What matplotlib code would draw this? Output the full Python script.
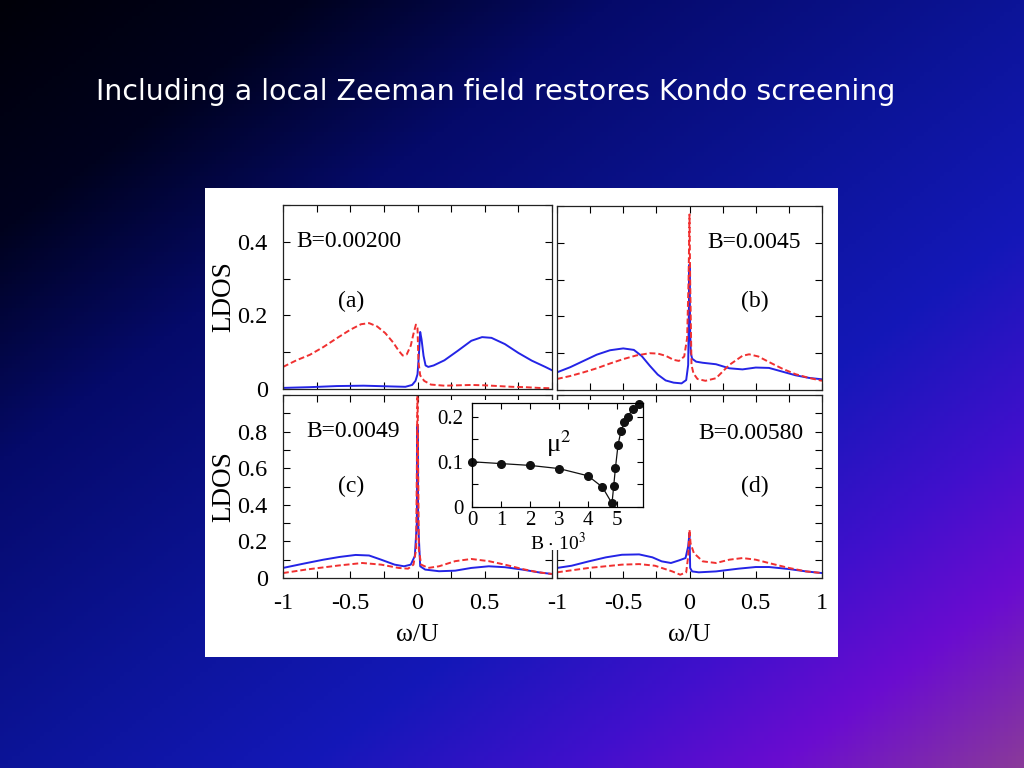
import matplotlib
matplotlib.use("Agg")
import matplotlib.pyplot as plt
import numpy as np
from matplotlib.ticker import MultipleLocator, FixedLocator, FixedFormatter

plt.rcParams['font.family'] = ['Liberation Serif', 'DejaVu Serif']
plt.rcParams['mathtext.fontset'] = 'stix'

# panel (a) B=0.00200
a_blue_w = [-1, -0.8, -0.6, -0.4, -0.2, -0.09, -0.04, -0.015, 0, 0.01, 0.02, 0.03, 0.045, 0.06, 0.08,
            0.12, 0.2, 0.3, 0.4, 0.48, 0.55, 0.65, 0.75, 0.85, 0.95, 1.0]
a_blue = [0.003, 0.005, 0.008, 0.009, 0.007, 0.006, 0.011, 0.022, 0.040, 0.090, 0.155, 0.135, 0.090, 0.064, 0.060,
          0.064, 0.078, 0.104, 0.131, 0.141, 0.139, 0.122, 0.098, 0.077, 0.060, 0.051]
a_red_w = [-1, -0.9, -0.8, -0.7, -0.6, -0.5, -0.42, -0.36, -0.3, -0.24, -0.18, -0.14, -0.11, -0.08, -0.05,
           -0.03, -0.012, 0, 0.007, 0.02, 0.05, 0.1, 0.2, 0.3, 0.4, 0.5, 0.6, 0.7, 0.8, 0.9, 1.0]
a_red = [0.060, 0.078, 0.093, 0.114, 0.138, 0.161, 0.176, 0.179, 0.170, 0.152, 0.126, 0.104, 0.091, 0.094, 0.118,
         0.150, 0.175, 0.165, 0.075, 0.037, 0.022, 0.012, 0.009, 0.010, 0.011, 0.010, 0.008, 0.006, 0.005, 0.003, 0.002]

# panel (b) B=0.0045
b_blue_w = [-1, -0.9, -0.8, -0.7, -0.6, -0.5, -0.42, -0.36, -0.3, -0.24, -0.18, -0.12, -0.06, -0.025, -0.01,
            0, 0.005, 0.01, 0.02, 0.05, 0.1, 0.2, 0.3, 0.4, 0.5, 0.6, 0.7, 0.8, 0.9, 1.0]
b_blue = [0.048, 0.062, 0.079, 0.096, 0.108, 0.113, 0.109, 0.092, 0.066, 0.042, 0.026, 0.020, 0.018, 0.027, 0.068,
          0.341, 0.16, 0.10, 0.085, 0.077, 0.074, 0.070, 0.059, 0.056, 0.061, 0.060, 0.050, 0.040, 0.033, 0.029]
b_red_w = [-1, -0.9, -0.8, -0.7, -0.6, -0.5, -0.4, -0.3, -0.24, -0.18, -0.12, -0.08, -0.04, -0.018, -0.007,
           0, 0.005, 0.015, 0.03, 0.06, 0.12, 0.2, 0.3, 0.4, 0.45, 0.52, 0.6, 0.7, 0.8, 0.9, 1.0]
b_red = [0.030, 0.038, 0.048, 0.059, 0.072, 0.084, 0.094, 0.100, 0.099, 0.093, 0.082, 0.079, 0.091, 0.141, 0.30,
         0.477, 0.30, 0.068, 0.045, 0.030, 0.025, 0.032, 0.068, 0.093, 0.097, 0.091, 0.076, 0.058, 0.043, 0.033, 0.025]

# panel (c) B=0.0049
c_blue_w = [-1, -0.85, -0.7, -0.58, -0.46, -0.36, -0.27, -0.17, -0.10, -0.05, -0.02, -0.005, 0, 0.005, 0.02,
            0.057, 0.16, 0.28, 0.40, 0.53, 0.65, 0.78, 0.90, 1.0]
c_blue = [0.055, 0.078, 0.10, 0.115, 0.126, 0.123, 0.100, 0.073, 0.064, 0.073, 0.12, 0.3, 0.83, 0.3, 0.064,
          0.046, 0.037, 0.040, 0.055, 0.064, 0.059, 0.046, 0.031, 0.022]
c_red_w = [-1, -0.83, -0.59, -0.41, -0.27, -0.14, -0.07, -0.03, -0.01, 0, 0.01, 0.027, 0.08, 0.16, 0.28,
           0.40, 0.53, 0.65, 0.78, 0.90, 1.0]
c_red = [0.027, 0.046, 0.068, 0.082, 0.073, 0.055, 0.051, 0.073, 0.156, 1.05, 0.156, 0.073, 0.055, 0.064, 0.092,
         0.104, 0.092, 0.073, 0.049, 0.031, 0.022]

# panel (d) B=0.00580
d_blue_w = [-1, -0.89, -0.76, -0.63, -0.51, -0.38, -0.28, -0.21, -0.14, -0.08, -0.03, -0.01, 0, 0.005, 0.02,
            0.07, 0.2, 0.37, 0.5, 0.6, 0.75, 0.88, 1.0]
d_blue = [0.055, 0.067, 0.091, 0.113, 0.127, 0.129, 0.113, 0.091, 0.082, 0.096, 0.109, 0.173, 0.245, 0.055, 0.036,
          0.031, 0.036, 0.051, 0.060, 0.060, 0.049, 0.036, 0.027]
d_red_w = [-1, -0.76, -0.51, -0.38, -0.26, -0.13, -0.07, -0.025, -0.01, 0, 0.008, 0.033, 0.1, 0.2, 0.3,
           0.4, 0.5, 0.62, 0.75, 0.88, 1.0]
d_red = [0.031, 0.055, 0.073, 0.076, 0.067, 0.036, 0.018, 0.031, 0.118, 0.264, 0.19, 0.136, 0.091, 0.082, 0.10,
         0.109, 0.10, 0.078, 0.055, 0.036, 0.027]

# inset mu^2 vs B*10^3
inset_B = [0, 1, 2, 3, 4, 4.5, 4.83, 4.89, 4.95, 5.04, 5.14, 5.26, 5.37, 5.54, 5.75]
inset_mu2 = [0.100, 0.096, 0.092, 0.085, 0.069, 0.044, 0.008, 0.047, 0.087, 0.138, 0.168, 0.187, 0.199, 0.216, 0.227]

x_ticks = [-1, -0.75, -0.5, -0.25, 0, 0.25, 0.5, 0.75, 1]
x_labels_left = ['-1', '', '-0.5', '', '0', '', '0.5', '', '']
x_labels_right = ['-1', '', '-0.5', '', '0', '', '0.5', '', '1']
title = "Including a local Zeeman field restores Kondo screening"

W, H = 1024, 768


def box(l, t, r, b):
    return [l / W, 1 - b / H, (r - l) / W, (b - t) / H]


fig = plt.figure(figsize=(W / 100, H / 100), dpi=100)

# slide background gradient
bg = fig.add_axes([0, 0, 1, 1], zorder=0)
gx, gy = np.meshgrid(np.linspace(0, 1, 256), np.linspace(0, 1, 192))
t = (gx + gy) / 2
stops = [0.0, 0.15, 0.3, 0.5, 0.65, 0.78, 0.88, 1.0]
cols = ['#000008', '#00021e', '#050a6a', '#0c1498', '#1418b8', '#4010cc', '#6a0cd0', '#8a3a9a']
rgb = np.array([matplotlib.colors.to_rgb(c) for c in cols])
img = np.dstack([np.interp(t, stops, rgb[:, k]) for k in range(3)])
bg.imshow(img, aspect='auto', extent=[0, 1, 0, 1], origin='upper')
bg.set_axis_off()

fig.text(96 / W, 1 - 92 / H, title, color='white', fontsize=20.5, family='DejaVu Sans',
         ha='left', va='center')

# white picture panel
fig.add_artist(plt.Rectangle((205 / W, 1 - 657 / H), 633 / W, 469 / H, transform=fig.transFigure,
                             facecolor='white', edgecolor='none', zorder=0.5))

blue = '#2424e6'
red = '#f03030'

panels = [
    (box(283, 205, 552, 389), a_blue_w, a_blue, a_red_w, a_red, 0.5),
    (box(557, 206, 822, 390), b_blue_w, b_blue, b_red_w, b_red, 0.5),
    (box(283, 395, 552, 578), c_blue_w, c_blue, c_red_w, c_red, 1.0),
    (box(557, 395, 822, 578), d_blue_w, d_blue, d_red_w, d_red, 1.0),
]
axes = []
for i, (pos, bw, bv, rw, rv, ytop) in enumerate(panels):
    ax = fig.add_axes(pos, zorder=1)
    ax.plot(bw, bv, color=blue, lw=1.4)
    ax.plot(rw, rv, color=red, lw=1.4, ls=(0, (3, 1.5)))
    ax.set_xlim(-1, 1)
    ax.set_ylim(0, ytop)
    ax.set_xticks(x_ticks)
    ax.tick_params(direction='in', top=True, right=True, length=5, width=0.8, labelsize=17.5)
    ax.tick_params(axis='x', pad=11)
    ax.tick_params(axis='y', pad=11)
    for s in ax.spines.values():
        s.set_linewidth(0.9)
        s.set_color('#222222')
    if i < 2:
        ax.set_xticklabels([])
    else:
        ax.set_xticklabels(x_labels_right if i == 3 else x_labels_left)
        ax.set_xlabel('ω/U', fontsize=18.5, labelpad=7)
    yt = np.arange(0, ytop + 0.001, 0.1)
    ax.set_yticks(yt)
    if i % 2 == 1:
        ax.set_yticklabels([])
    else:
        lab = []
        for v in yt:
            k = int(round(v * 10))
            if k % 2 == 0 and v < ytop - 0.05:
                lab.append('0' if k == 0 else '%.1f' % v)
            else:
                lab.append('')
        ax.set_yticklabels(lab)
        ax.set_ylabel('LDOS', fontsize=19.5, labelpad=1)
    axes.append(ax)

fs = 17
axes[0].text(-0.9, 0.40, 'B=0.00200', fontsize=fs, va='center', ha='left')
axes[0].text(-0.49, 0.237, '(a)', fontsize=fs, va='center', ha='center')
axes[1].text(0.84, 0.40, 'B=0.0045', fontsize=fs, va='center', ha='right')
axes[1].text(0.49, 0.24, '(b)', fontsize=fs, va='center', ha='center')
axes[2].text(-0.83, 0.80, 'B=0.0049', fontsize=fs, va='center', ha='left')
axes[2].text(-0.49, 0.50, '(c)', fontsize=fs, va='center', ha='center')
axes[3].text(0.86, 0.79, 'B=0.00580', fontsize=fs, va='center', ha='right')
axes[3].text(0.49, 0.50, '(d)', fontsize=fs, va='center', ha='center')

# white cover behind inset
fig.add_artist(plt.Rectangle((430 / W, 1 - 550 / H), 220 / W, 150 / H, transform=fig.transFigure,
                             facecolor='white', edgecolor='none', zorder=1.5))

ins = fig.add_axes(box(472, 403, 643, 507), zorder=2)
ins.plot(inset_B, inset_mu2, color='#111111', lw=0.9, marker='o', ms=5.5, clip_on=False)
ins.set_xlim(0, 5.9)
ins.set_ylim(0, 0.23)
ins.xaxis.set_major_locator(MultipleLocator(1))
ins.yaxis.set_major_locator(FixedLocator([0, 0.05, 0.1, 0.15, 0.2]))
ins.yaxis.set_major_formatter(FixedFormatter(['0', '', '0.1', '', '0.2']))
ins.tick_params(direction='in', top=True, right=True, length=4, width=0.8, labelsize=15, pad=6)
ins.tick_params(axis='x', pad=3)
for s in ins.spines.values():
    s.set_linewidth(0.9)
ins.set_xlabel(r'B $\cdot$ 10$^3$', fontsize=14, labelpad=1)
ins.text(3.0, 0.14, 'μ$^2$', fontsize=19, ha='center', va='center')

fig.savefig('out.png', dpi=100)
